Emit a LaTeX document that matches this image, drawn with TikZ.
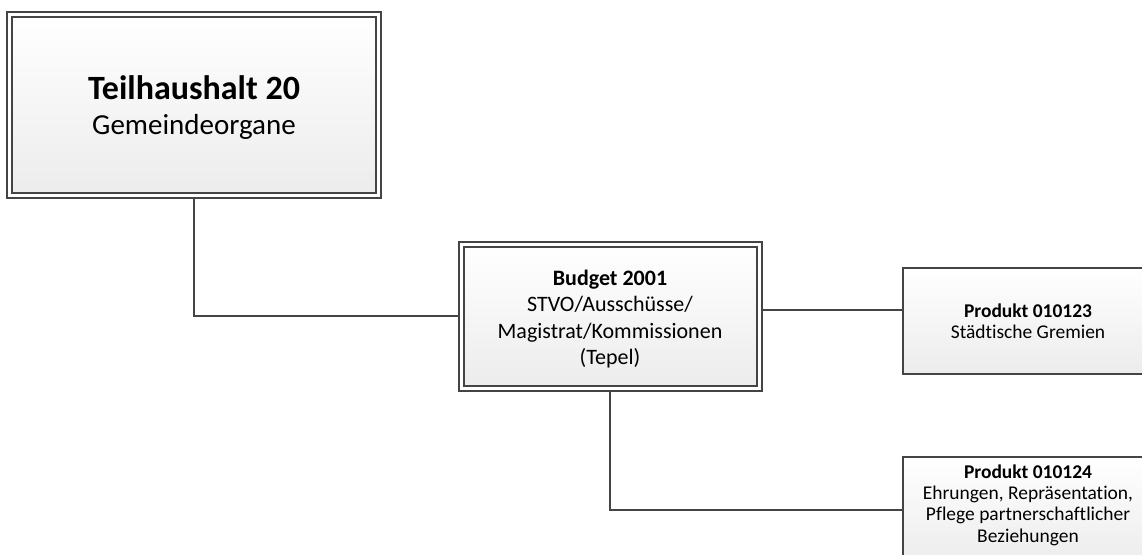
\documentclass[tikz,border=0pt]{standalone}
\usepackage{fontspec}
\setmainfont[Ligatures=NoCommon]{Carlito}
\usetikzlibrary{backgrounds}
\definecolor{edgegray}{RGB}{68,68,68}
\definecolor{fillbot}{RGB}{236,236,236}
\begin{document}
\begin{tikzpicture}[x=0.75pt,y=-0.75pt,
  dblbox/.style={rectangle, draw=edgegray, line width=1.5pt, double=white, double distance=2.25pt,
    top color=white, bottom color=fillbot, inner sep=0pt, align=center},
  sglbox/.style={rectangle, draw=edgegray, line width=1.5pt,
    top color=white, bottom color=fillbot, inner sep=0pt, align=center,
    minimum width=187.5pt, minimum height=79.5pt,
    font=\fontsize{14.6pt}{16pt}\selectfont},
  smalltext/.style={align=center, inner sep=0pt, font=\fontsize{14.6pt}{16pt}\selectfont},
  conn/.style={draw=edgegray, line width=1.5pt}]
\useasboundingbox (0,0) rectangle (1142,554);
\clip (0,0) rectangle (1142,554);

\node[dblbox, minimum width=276.75pt, minimum height=135.75pt] (top) at (194,104.5) {};
\node[align=center, inner sep=0pt, font=\fontsize{21.75pt}{26.25pt}\selectfont] (toptext) at (194,107.5)
  {{\fontsize{25.5pt}{26.25pt}\selectfont\bfseries Teilhaushalt 20}\\Gemeindeorgane};

\node[dblbox, minimum width=223.5pt, minimum height=108pt] (mid) at (610,316) {};
\node[align=center, inner sep=0pt, font=\fontsize{16.5pt}{19.9pt}\selectfont] (midtext) at (610,319)
  {\textbf{Budget 2001}\\STVO/Ausschüsse/\\Magistrat/Kommissionen\\(Tepel)};

\node[sglbox] (p1) at (1028,321) {\textbf{Produkt 010123}\\Städtische Gremien};

\node[sglbox] (p2) at (1028,510) {};
\node[smalltext] (p2text) at (1028,505)
  {\textbf{Produkt 010124}\\Ehrungen, Repräsentation,\\Pflege partnerschaftlicher\\Beziehungen};

\begin{scope}[on background layer]
\draw[conn] (top.south) |- (mid.west);
\draw[conn] ([yshift=4.5pt]mid.east) -- ([yshift=4.5pt]mid.east -| p1.west);
\draw[conn] (mid.south) |- (p2.west);
\end{scope}
\end{tikzpicture}
\end{document}
